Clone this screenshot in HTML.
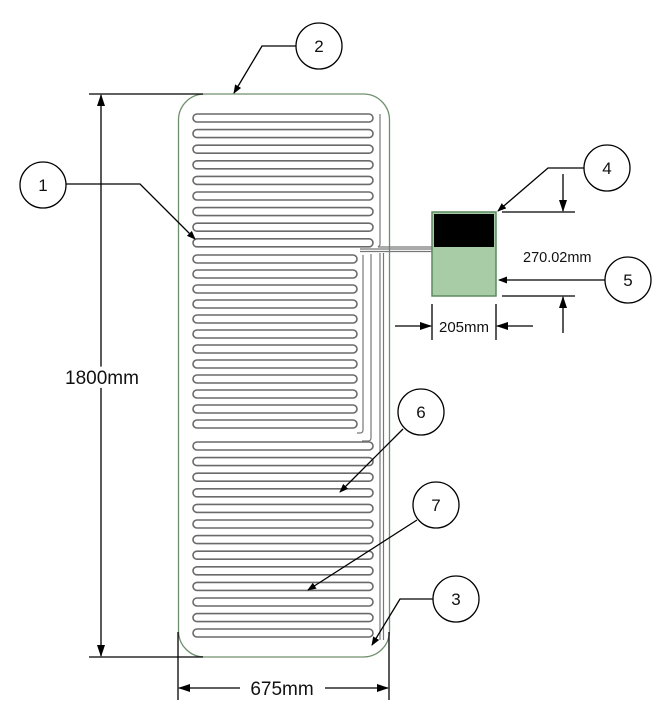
<!DOCTYPE html>
<html><head><meta charset="utf-8"><style>
html,body{margin:0;padding:0;background:#fff;width:660px;height:705px;overflow:hidden}
text{font-family:"Liberation Sans",sans-serif;fill:#111}
</style></head><body>
<svg width="660" height="705" viewBox="0 0 660 705" xmlns="http://www.w3.org/2000/svg">
<defs>
<marker id="a" markerWidth="12" markerHeight="8" refX="11" refY="4" orient="auto" markerUnits="userSpaceOnUse"><path d="M0,0 L12,4 L0,8 Z" fill="#000"/></marker>
<marker id="s" markerWidth="9" markerHeight="7" refX="8" refY="3.5" orient="auto" markerUnits="userSpaceOnUse"><path d="M0,0 L9,3.5 L0,7 Z" fill="#000"/></marker>
</defs>
<rect x="178.5" y="94" width="211" height="563" rx="26" fill="#fff" stroke="#6f8f6f" stroke-width="1.3"/>
<g fill="none" stroke="#6a6a6a" stroke-width="1.6">
<rect x="193" y="114" width="180" height="8" rx="4"/>
<rect x="193" y="129.6" width="180" height="8" rx="4"/>
<rect x="193" y="145.2" width="180" height="8" rx="4"/>
<rect x="193" y="160.8" width="180" height="8" rx="4"/>
<rect x="193" y="176.4" width="180" height="8" rx="4"/>
<rect x="193" y="192" width="180" height="8" rx="4"/>
<rect x="193" y="207.6" width="180" height="8" rx="4"/>
<rect x="193" y="223.2" width="180" height="8" rx="4"/>
<rect x="193" y="238.8" width="180" height="8" rx="4"/>
<rect x="193" y="255" width="164" height="8" rx="4"/>
<rect x="193" y="270" width="164" height="8" rx="4"/>
<rect x="193" y="285" width="164" height="8" rx="4"/>
<rect x="193" y="300" width="164" height="8" rx="4"/>
<rect x="193" y="315" width="164" height="8" rx="4"/>
<rect x="193" y="330" width="164" height="8" rx="4"/>
<rect x="193" y="345" width="164" height="8" rx="4"/>
<rect x="193" y="360" width="164" height="8" rx="4"/>
<rect x="193" y="375" width="164" height="8" rx="4"/>
<rect x="193" y="390" width="164" height="8" rx="4"/>
<rect x="193" y="405" width="164" height="8" rx="4"/>
<rect x="193" y="420" width="164" height="8" rx="4"/>
<rect x="193" y="442" width="180" height="8" rx="4"/>
<rect x="193" y="457.6" width="180" height="8" rx="4"/>
<rect x="193" y="473.2" width="180" height="8" rx="4"/>
<rect x="193" y="488.8" width="180" height="8" rx="4"/>
<rect x="193" y="504.4" width="180" height="8" rx="4"/>
<rect x="193" y="520" width="180" height="8" rx="4"/>
<rect x="193" y="535.6" width="180" height="8" rx="4"/>
<rect x="193" y="551.2" width="180" height="8" rx="4"/>
<rect x="193" y="566.8" width="180" height="8" rx="4"/>
<rect x="193" y="582.4" width="180" height="8" rx="4"/>
<rect x="193" y="598" width="180" height="8" rx="4"/>
<rect x="193" y="613.6" width="180" height="8" rx="4"/>
<rect x="193" y="629" width="180" height="8" rx="4"/>
</g>
<g fill="none" stroke="#777" stroke-width="1.2">
<path d="M360,249 L432,249"/>
<path d="M360,251.5 L432,251.5"/>
<path d="M378,247 L432,247"/>
<path d="M380,114 L380,245 L378,247"/>
<path d="M363,255 L363,430 Q363,433 360,433 L357,433"/>
<path d="M371,254 L371,438 Q371,441 368,441 L362,441"/>
<path d="M380,253 L380,640"/>
<path d="M383.5,253 L383.5,640"/>
</g>
<rect x="432" y="212" width="64" height="84" fill="#a8cca6" stroke="#5e8a5e" stroke-width="1.5"/>
<rect x="434" y="214" width="60" height="33" fill="#000"/>
<g stroke="#000" stroke-width="1.3" fill="none">
<line x1="89" y1="94" x2="203" y2="94"/>
<line x1="89" y1="657" x2="203" y2="657"/>
<line x1="101" y1="376" x2="101" y2="95" marker-end="url(#a)"/>
<line x1="101" y1="376" x2="101" y2="656" marker-end="url(#a)"/>
<line x1="178" y1="632" x2="178" y2="700"/>
<line x1="389" y1="632" x2="389" y2="700"/>
<line x1="240" y1="688" x2="179" y2="688" marker-end="url(#a)"/>
<line x1="325" y1="688" x2="388" y2="688" marker-end="url(#a)"/>
<line x1="502" y1="212" x2="575" y2="212"/>
<line x1="502" y1="296" x2="575" y2="296"/>
<line x1="563" y1="174" x2="563" y2="211" marker-end="url(#a)"/>
<line x1="563" y1="333" x2="563" y2="297" marker-end="url(#a)"/>
<line x1="432" y1="304" x2="432" y2="340"/>
<line x1="496" y1="304" x2="496" y2="340"/>
<line x1="395" y1="326" x2="431" y2="326" marker-end="url(#a)"/>
<line x1="533" y1="326" x2="497" y2="326" marker-end="url(#a)"/>
<polyline points="66,184 140,184 195,239" marker-end="url(#s)"/>
<polyline points="296,46 262,46 234,93" marker-end="url(#s)"/>
<polyline points="585,168 548,168 498,211" marker-end="url(#s)"/>
<line x1="605" y1="280" x2="499" y2="280" marker-end="url(#s)"/>
<line x1="403" y1="429" x2="340" y2="492" marker-end="url(#s)"/>
<line x1="417" y1="520" x2="308" y2="590" marker-end="url(#s)"/>
<polyline points="433,599 400,599 372,645" marker-end="url(#s)"/>
<circle cx="43" cy="185" r="23" fill="#fff"/>
<circle cx="319" cy="46" r="23" fill="#fff"/>
<circle cx="456" cy="599" r="23" fill="#fff"/>
<circle cx="607" cy="168" r="23" fill="#fff"/>
<circle cx="628" cy="280" r="23" fill="#fff"/>
<circle cx="421" cy="412" r="23" fill="#fff"/>
<circle cx="436" cy="505" r="23" fill="#fff"/>
</g>
<g font-size="17" text-anchor="middle">
<text x="43" y="191">1</text>
<text x="319" y="52">2</text>
<text x="456" y="605">3</text>
<text x="607" y="174">4</text>
<text x="628" y="286">5</text>
<text x="421" y="418">6</text>
<text x="436" y="511">7</text>
</g>
<text x="102" y="384" font-size="19" text-anchor="middle" style="paint-order:stroke" stroke="#fff" stroke-width="8">1800mm</text>
<text x="282" y="695" font-size="19" text-anchor="middle">675mm</text>
<text x="523" y="262" font-size="14.5">270.02mm</text>
<text x="464" y="332" font-size="15" text-anchor="middle">205mm</text>
</svg>
</body></html>
